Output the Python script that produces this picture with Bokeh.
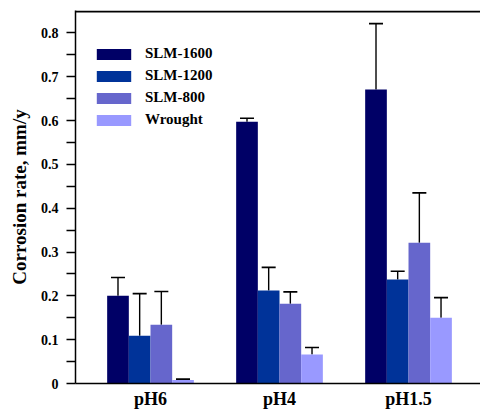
from bokeh.plotting import figure
from bokeh.models import (ColumnDataSource, Whisker, TeeHead, Legend, LegendItem,
                          FixedTicker, Range1d)
from bokeh.embed import file_html
from bokeh.resources import INLINE

categories = ["pH6", "pH4", "pH1.5"]
series = ["SLM-1600", "SLM-1200", "SLM-800", "Wrought"]
colors = ["#000066", "#003399", "#6666CC", "#9999FF"]

slm1600 = [0.200, 0.597, 0.671]
slm1200 = [0.109, 0.212, 0.237]
slm800 = [0.134, 0.182, 0.321]
wrought = [0.008, 0.066, 0.150]

err1600 = [0.042, 0.008, 0.150]
err1200 = [0.096, 0.053, 0.019]
err800 = [0.076, 0.027, 0.114]
errwrought = [0.002, 0.016, 0.046]

values = [slm1600, slm1200, slm800, wrought]
errors = [err1600, err1200, err800, errwrought]

FONT = "'Liberation Serif', 'Times New Roman', serif"
bar_w = 0.168
group_x = [i + 1 for i in range(len(categories))]

x_range = Range1d(0.4186, 3.558)
y_range = Range1d(0, 0.851)

p = figure(width=480, height=412, output_backend="svg", toolbar_location=None,
           x_range=x_range, y_range=y_range,
           min_border_left=75, min_border_top=10, min_border_right=0,
           min_border_bottom=29)
p.outline_line_color = None
p.xgrid.visible = False
p.ygrid.visible = False
p.background_fill_color = "white"
p.border_fill_color = "white"

# top frame line (reference has no right border)
p.segment(x0=[x_range.start], x1=[x_range.end],
          y0=[y_range.end - 0.002], y1=[y_range.end - 0.002],
          line_color="black", line_width=2)

items = []
for k, (name, col, vals, errs) in enumerate(zip(series, colors, values, errors)):
    off = (k - 1.5) * bar_w
    xs = [g + off for g in group_x]
    src = ColumnDataSource(dict(x=xs, top=vals,
                                upper=[v + e for v, e in zip(vals, errs)]))
    r = p.vbar(x="x", top="top", width=bar_w, source=src, fill_color=col,
               line_color=None)
    w = Whisker(base="x", lower="top", upper="upper", source=src,
                line_color="black", line_width=1.4,
                upper_head=TeeHead(size=14, line_color="black", line_width=1.6),
                lower_head=None)
    p.add_layout(w)
    items.append(LegendItem(label=name, renderers=[r]))

legend = Legend(items=items, location=(17, 255), padding=0, margin=0,
                border_line_color=None, background_fill_alpha=0,
                glyph_width=43, glyph_height=14, label_height=14, spacing=5,
                label_standoff=10, label_text_font=FONT,
                label_text_font_style="bold", label_text_font_size="15px",
                label_text_color="black")
p.add_layout(legend, "center")

# y axis
p.yaxis.ticker = FixedTicker(ticks=[0, 0.1, 0.2, 0.3, 0.4, 0.5, 0.6, 0.7, 0.8],
                             minor_ticks=[0.05, 0.15, 0.25, 0.35, 0.45, 0.55, 0.65, 0.75])
p.yaxis.major_label_overrides = {0: "0"}
p.yaxis.axis_label = "Corrosion rate, mm/y"
p.yaxis.axis_label_text_font = FONT
p.yaxis.axis_label_text_font_style = "bold"
p.yaxis.axis_label_text_font_size = "19px"
p.yaxis.axis_label_text_color = "black"
p.yaxis.axis_label_standoff = 8
p.yaxis.major_label_text_font = FONT
p.yaxis.major_label_text_font_style = "bold"
p.yaxis.major_label_text_font_size = "14px"
p.yaxis.major_label_text_color = "black"
p.yaxis.major_label_standoff = 8
p.yaxis.major_tick_out = 9
p.yaxis.major_tick_in = 0
p.yaxis.minor_tick_out = 9
p.yaxis.minor_tick_in = 0
p.yaxis.axis_line_width = 1.5
p.yaxis.major_tick_line_width = 1.5
p.yaxis.minor_tick_line_width = 1.5
p.yaxis.axis_line_color = "black"

# x axis
p.xaxis.ticker = FixedTicker(ticks=group_x)
p.xaxis.major_label_overrides = {g: c for g, c in zip(group_x, categories)}
p.xaxis.major_label_text_font = FONT
p.xaxis.major_label_text_font_style = "bold"
p.xaxis.major_label_text_font_size = "18px"
p.xaxis.major_label_text_color = "black"
p.xaxis.major_label_standoff = 5
p.xaxis.axis_label_standoff = 0
p.xaxis.major_tick_out = 0
p.xaxis.major_tick_in = 0
p.xaxis.major_tick_line_color = None
p.xaxis.minor_tick_line_color = None
p.xaxis.axis_line_width = 1.5
p.xaxis.axis_line_color = "black"

open("out.html", "w").write(file_html(p, INLINE))
